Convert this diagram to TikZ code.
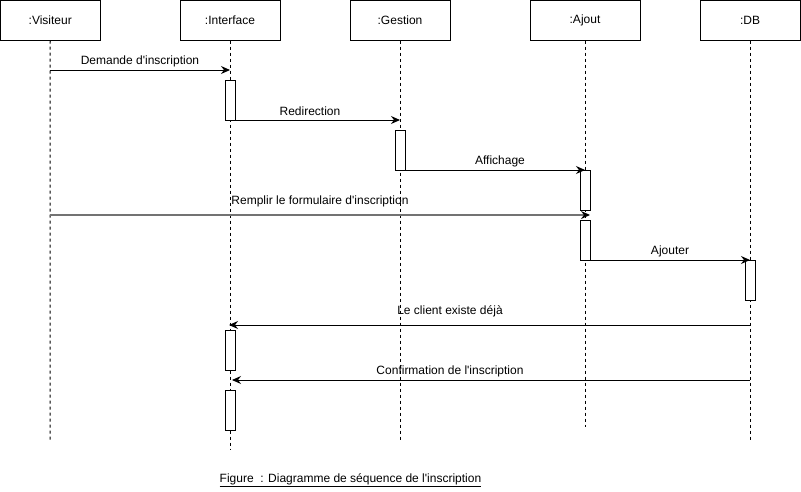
\documentclass[tikz,border=0pt]{standalone}
\usepackage{fontspec}
\setmainfont{Liberation Sans}[Ligatures=TeXOff]
\usetikzlibrary{arrows.meta}
\tikzset{
  obj/.style={draw, line width=1pt, minimum width=100pt, minimum height=40pt, inner sep=0pt, outer sep=0pt, font=\fontsize{12}{14}\selectfont},
  lifeline/.style={line width=1pt, dash pattern=on 3pt off 3pt},
  act/.style={draw, fill=white, line width=1pt, minimum width=10pt, minimum height=40pt, inner sep=0pt, outer sep=0pt},
  msg/.style={line width=1pt, -{Stealth[length=9pt,width=8pt,inset=3pt,black]}},
  lbl/.style={font=\fontsize{12}{14}\selectfont, inner sep=0pt}
}
\begin{document}
\begin{tikzpicture}[x=1pt,y=-1pt]
\useasboundingbox (0,0) rectangle (801,491);
% objects
\node[obj, minimum width=99.5pt] (vis) at (50.25,20.5) {:Visiteur};
\node[obj] (int) at (230,20.5) {:Interface};
\node[obj] (ges) at (400,20.5) {:Gestion};
\node[obj, minimum width=110pt] (ajo) at (585,20.5) {:Ajout};
\node[obj] (db) at (750,20.5) {:DB};
% lifeline ends
\coordinate (visE) at (50,440);
\coordinate (intE) at (230,450);
\coordinate (gesE) at (400,440);
\coordinate (ajoE) at (585,427);
\coordinate (dbE) at (750,440);
\draw[lifeline] (vis.south) -- (visE);
\draw[lifeline] (int.south) -- (intE);
\draw[lifeline] (ges.south) -- (gesE);
\draw[lifeline] (ajo.south) -- (ajoE);
\draw[lifeline] (db.south) -- (dbE);
% activation bars
\node[act] (i1) at (230,100) {};
\node[act] (g1) at (400,150) {};
\node[act] (a1) at (585,190) {};
\node[act] (a2) at (585,240) {};
\node[act] (d1) at (750,280) {};
\node[act] (i2) at (230,350) {};
\node[act] (i3) at (230,410) {};
% message end points
\coordinate (m1s) at (50,70);   \coordinate (m1e) at (230,70);
\coordinate (m4s) at (50,215);  \coordinate (m4e) at (590,215);
\coordinate (m6s) at (750,325); \coordinate (m6e) at (229,325);
\coordinate (m7s) at (750,380); \coordinate (m7e) at (232,380);
% messages
\draw[msg] (m1s) -- (m1e);
\node[lbl] (l1) at (140,61) {Demande d'inscription};
\draw[msg] (i1.south east) -- (i1.south east -| ges.south);
\node[lbl] (l2) at (310,111) {Redirection};
\draw[msg] (g1.south east) -- (a1.north);
\node[lbl] (l3) at (500,161) {Affichage};
\draw[msg, black!55, line width=1.3pt] (m4s) -- (m4e);
\node[lbl] (l4) at (320,201) {Remplir le formulaire d'inscription};
\draw[msg] (a2.south east) -- (d1.north);
\node[lbl] (l5) at (670,251) {Ajouter};
\draw[msg] (m6s) -- (m6e);
\node[lbl] (l6) at (450,311) {Le client existe déjà};
\draw[msg] (m7s) -- (m7e);
\node[lbl] (l7) at (450,371) {Confirmation de l'inscription};
% caption
\node[lbl] (cap) at (350.5,480) {\underline{Figure\ \ : Diagramme de séquence de l'inscription}};
\end{tikzpicture}
\end{document}
